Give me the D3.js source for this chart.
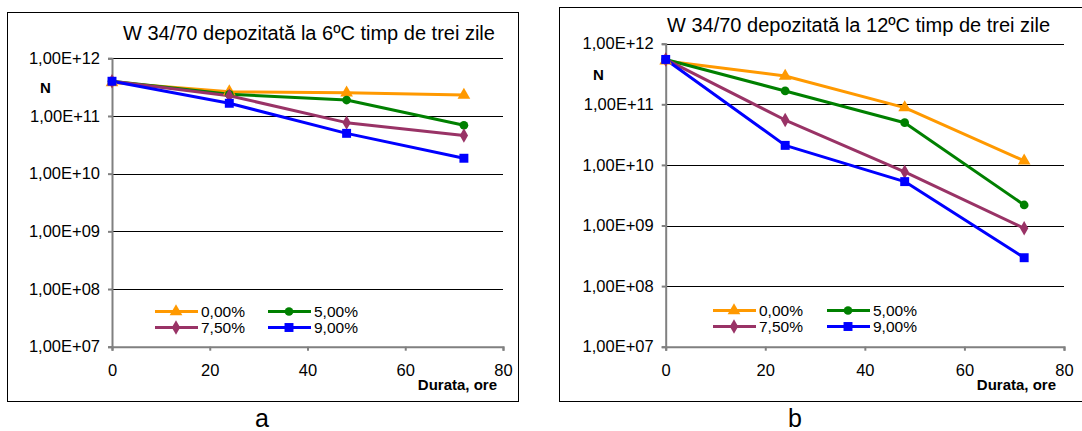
<!DOCTYPE html>
<html>
<head>
<meta charset="utf-8">
<script src="https://cdn.jsdelivr.net/npm/d3@7"></script>
<style>
  body { margin: 0; background: #fff; }
  svg { display: block; font-family: "Liberation Sans", Arial, sans-serif; }
</style>
</head>
<body>
<svg id="chart" width="1082" height="431"></svg>
<script>
// hours of storage
var hours = [0, 24, 48, 72];
var seriesNames = ['0,00%', '5,00%', '7,50%', '9,00%'];
var yTicks = [1e7, 1e8, 1e9, 1e10, 1e11, 1e12];
var yTickLabels = ['1,00E+07', '1,00E+08', '1,00E+09', '1,00E+10', '1,00E+11', '1,00E+12'];
var xTicks = [0, 20, 40, 60, 80];

// panel a: 6 C
var a_000 = [3.8e11, 2.64e11, 2.53e11, 2.31e11];
var a_500 = [4.0e11, 2.38e11, 1.89e11, 6.9e10];
var a_750 = [4.0e11, 2.25e11, 7.66e10, 4.6e10];
var a_900 = [4.0e11, 1.66e11, 5.0e10, 1.85e10];

// panel b: 12 C
var b_000 = [5.2e11, 2.93e11, 8.8e10, 1.17e10];
var b_500 = [5.5e11, 1.66e11, 4.97e10, 2.18e9];
var b_750 = [5.5e11, 5.5e10, 7.7e9, 9.0e8];
var b_900 = [5.5e11, 2.1e10, 5.3e9, 2.94e8];

var colors = ['#FF9900', '#008000', '#993366', '#0000FF'];
var shapes = [d3.symbolTriangle, d3.symbolCircle, d3.symbolDiamond, d3.symbolSquare];
var sizes = [70, 60, 60, 80];

var svg = d3.select('#chart');

var panels = [
  {
    title: 'W 34/70 depozitată la 6ºC timp de trei zile', caption: 'a',
    data: [a_000, a_500, a_750, a_900],
    box: { x: 7.5, y: 12.5, w: 511, h: 389 },
    plot: { x0: 112, x1: 503, y0: 58.3, y1: 346.7 },
    titleX: 123, titleY: 40, nX: 40, nY: 93, durX: 497, durY: 390,
    legX: 155, legX2: 268, legY: 311.5, capX: 262
  },
  {
    title: 'W 34/70 depozitată la 12ºC timp de trei zile', caption: 'b',
    data: [b_000, b_500, b_750, b_900],
    box: { x: 559.5, y: 7.5, w: 560, h: 394 },
    plot: { x0: 665.7, x1: 1064, y0: 43.7, y1: 346.7 },
    titleX: 667, titleY: 31.5, nX: 593, nY: 80, durX: 1056, durY: 390,
    legX: 713, legX2: 827, legY: 310.5, capX: 795
  }
];

panels.forEach(function(p) {
  var g = svg.append('g');

  // chart border
  g.append('rect')
    .attr('x', p.box.x).attr('y', p.box.y)
    .attr('width', p.box.w).attr('height', p.box.h)
    .attr('fill', 'none').attr('stroke', '#000').attr('stroke-width', 1);

  var x = d3.scaleLinear().domain([0, 80]).range([p.plot.x0, p.plot.x1]);
  var y = d3.scaleLog().domain([1e7, 1e12]).range([p.plot.y1, p.plot.y0]);

  // gridlines
  g.selectAll('.grid').data(yTicks.slice(1)).enter().append('line')
    .attr('x1', p.plot.x0).attr('x2', p.plot.x1)
    .attr('y1', function(d) { return Math.round(y(d)) + 0.5; })
    .attr('y2', function(d) { return Math.round(y(d)) + 0.5; })
    .attr('stroke', '#000').attr('stroke-width', 1);

  // y axis
  var yAxis = d3.axisLeft(y).tickValues(yTicks)
    .tickFormat(function(d, i) { return yTickLabels[i]; })
    .tickSize(4).tickPadding(8);
  var ya = g.append('g').attr('transform', 'translate(' + p.plot.x0 + ',0)').call(yAxis);
  ya.select('.domain').attr('stroke', '#808080').attr('stroke-width', 2);
  ya.selectAll('.tick line').attr('stroke', '#808080').attr('stroke-width', 2);
  ya.selectAll('.tick text').attr('font-size', 16.5).attr('fill', '#000')
    .attr('font-family', '"Liberation Sans", Arial, sans-serif');

  // x axis
  var xAxis = d3.axisBottom(x).tickValues(xTicks).tickSize(4).tickPadding(14);
  var xa = g.append('g').attr('transform', 'translate(0,' + p.plot.y1 + ')').call(xAxis);
  xa.select('.domain').attr('stroke', '#808080').attr('stroke-width', 2);
  xa.selectAll('.tick line').attr('stroke', '#808080').attr('stroke-width', 2);
  xa.selectAll('.tick text').attr('font-size', 16.5).attr('fill', '#000')
    .attr('font-family', '"Liberation Sans", Arial, sans-serif');

  // series
  var line = d3.line()
    .x(function(d, i) { return x(hours[i]); })
    .y(function(d) { return y(d); });

  p.data.forEach(function(vals, s) {
    g.append('path').datum(vals)
      .attr('d', line)
      .attr('fill', 'none')
      .attr('stroke', colors[s]).attr('stroke-width', 3)
      .attr('stroke-linejoin', 'round');
  });
  p.data.forEach(function(vals, s) {
    g.selectAll('.m' + s).data(vals).enter().append('path')
      .attr('transform', function(d, i) { return 'translate(' + x(hours[i]) + ',' + y(d) + ')'; })
      .attr('d', d3.symbol().type(shapes[s]).size(sizes[s]))
      .attr('fill', colors[s]);
  });

  // title
  g.append('text').attr('x', p.titleX).attr('y', p.titleY)
    .attr('font-size', 20).attr('fill', '#000').text(p.title);

  // axis names
  g.append('text').attr('x', p.nX).attr('y', p.nY)
    .attr('font-size', 15).attr('font-weight', 'bold').text('N');
  g.append('text').attr('x', p.durX).attr('y', p.durY)
    .attr('text-anchor', 'end')
    .attr('font-size', 15).attr('font-weight', 'bold').text('Durata, ore');

  // legend
  seriesNames.forEach(function(name, s) {
    var lx = (s % 2 === 0) ? p.legX : p.legX2;
    var ly = p.legY + Math.floor(s / 2) * 16;
    g.append('line')
      .attr('x1', lx).attr('x2', lx + 43)
      .attr('y1', ly).attr('y2', ly)
      .attr('stroke', colors[s]).attr('stroke-width', 3);
    g.append('path')
      .attr('transform', 'translate(' + (lx + 21) + ',' + ly + ')')
      .attr('d', d3.symbol().type(shapes[s]).size(sizes[s]))
      .attr('fill', colors[s]);
    g.append('text')
      .attr('x', lx + 46).attr('y', ly + 5.5)
      .attr('font-size', 15.5).attr('fill', '#000').text(name);
  });

  // caption
  svg.append('text').attr('x', p.capX).attr('y', 427)
    .attr('text-anchor', 'middle')
    .attr('font-size', 25).attr('fill', '#000').text(p.caption);
});
</script>
</body>
</html>
